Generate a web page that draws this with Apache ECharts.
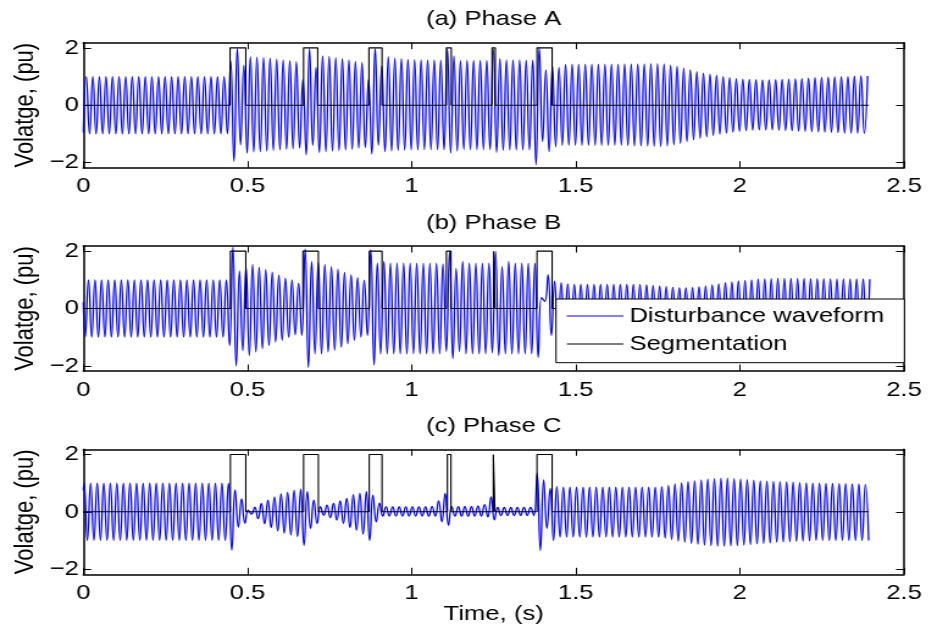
<!DOCTYPE html>
<html><head><meta charset="utf-8">
<script src="https://cdn.jsdelivr.net/npm/echarts@6/dist/echarts.min.js"></script>
<style>
html,body{margin:0;padding:0;background:#fff;overflow:hidden;}
#wrap{width:933px;height:632px;overflow:hidden;position:relative;}
#chart{height:632px;transform-origin:0 0;position:absolute;left:0;top:0;}
</style></head><body>
<div id="wrap"><div id="chart"></div></div>
<script>
// ---------------- DATA ----------------
const titles = ['(a) Phase A', '(b) Phase B', '(c) Phase C'];
const xTicks = [0, 0.5, 1, 1.5, 2, 2.5];
const yTicks = [-2, 0, 2];
const xLabel = 'Time, (s)';
const yLabel = 'Volatge, (pu)';
const seriesNames = ['Disturbance waveform', 'Segmentation'];

// 50 Hz waveform: one positive and one negative peak per cycle
const cycleTime = 0.02;
const posPeakTime = [0.009, 0.0157, 0.0023];   // time of first positive peak, phases A,B,C
const negPeakTime = [0.019, 0.0057, 0.0123];   // time of first negative peak
const startValues = [-0.95, 0.22, 0.75];       // value at t = 0
const waveEnd = 2.396;

const posA = [1,1,1,1,1,1,1,1,1,1,
  1,1,1,1,1,1,1,1,1,1,
  1,1,1.54,1.98,1.40,1.69,1.68,1.66,1.64,1.61,
  1.58,1.55,1.52,0.90,1.98,1.32,1.72,1.70,1.66,1.62,
  1.58,1.53,1.49,0.90,1.98,1.37,1.69,1.64,1.62,1.60,
  1.59,1.58,1.58,1.58,1.57,1.96,1.72,1.55,1.56,1.56,
  1.56,1.56,1.96,1.62,1.58,1.58,1.58,1.57,1.57,2.00,
  1.23,1.37,1.32,1.42,1.43,1.43,1.43,1.43,1.43,1.43,
  1.43,1.43,1.44,1.44,1.44,1.44,1.45,1.45,1.44,1.40,
  1.35,1.29,1.23,1.17,1.12,1.08,1.04,1.00,0.96,0.93,
  0.91,0.90,0.89,0.88,0.88,0.89,0.90,0.91,0.92,0.93,
  0.94,0.96,0.97,0.98,0.99,1.00,1.00,1.01,1.02,1.02];
const negA = [-1,-1,-1,-1,-1,-1,-1,-1,-1,-1,
  -1,-1,-1,-1,-1,-1,-1,-1,-1,-1,
  -1,-1,-1.96,-1.38,-1.67,-1.63,-1.62,-1.60,-1.58,-1.56,
  -1.54,-1.52,-1.50,-1.73,-1.40,-1.65,-1.62,-1.60,-1.58,-1.56,
  -1.54,-1.50,-1.48,-1.70,-1.40,-1.62,-1.60,-1.58,-1.57,-1.56,
  -1.56,-1.55,-1.55,-1.55,-1.55,-1.67,-1.60,-1.55,-1.55,-1.55,
  -1.55,-1.55,-1.65,-1.58,-1.56,-1.56,-1.56,-1.56,-2.08,-1.27,
  -1.62,-1.45,-1.40,-1.40,-1.40,-1.40,-1.40,-1.40,-1.40,-1.40,
  -1.40,-1.40,-1.41,-1.42,-1.42,-1.43,-1.43,-1.44,-1.42,-1.38,
  -1.33,-1.27,-1.21,-1.15,-1.10,-1.05,-1.01,-0.97,-0.94,-0.91,
  -0.89,-0.87,-0.86,-0.86,-0.86,-0.87,-0.88,-0.89,-0.90,-0.91,
  -0.92,-0.93,-0.94,-0.95,-0.96,-0.97,-0.97,-0.98,-0.98,-0.98];

const posB = [1,1,1,1,1,1,1,1,1,1,
  1,1,1,1,1,1,1,1,1,1,
  1,1,2.14,1.31,1.45,1.54,1.44,1.36,1.27,1.16,
  1.06,1.00,0.88,2.08,1.64,1.60,1.54,1.46,1.37,1.26,
  1.17,1.08,0.99,2.05,1.58,1.64,1.58,1.58,1.58,1.58,
  1.58,1.58,1.58,1.58,1.56,1.99,1.40,1.64,1.58,1.58,
  1.58,1.58,1.99,1.46,1.64,1.58,1.58,1.58,1.58,0.38,
  1.17,0.95,0.90,0.86,0.84,0.84,0.84,0.84,0.84,0.84,
  0.84,0.84,0.84,0.84,0.84,0.82,0.80,0.78,0.76,0.74,
  0.72,0.72,0.73,0.75,0.78,0.82,0.86,0.90,0.93,0.96,
  0.98,1.00,1.02,1.03,1.04,1.05,1.05,1.05,1.05,1.05,
  1.04,1.04,1.04,1.03,1.03,1.03,1.03,1.03,1.03,1.02];
const negB = [-1,-1,-1,-1,-1,-1,-1,-1,-1,-1,
  -1,-1,-1,-1,-1,-1,-1,-1,-1,-1,
  -1,-1,-1.30,-2.00,-1.47,-1.64,-1.52,-1.40,-1.29,-1.17,
  -1.11,-1.00,-0.92,-0.94,-2.06,-1.58,-1.58,-1.52,-1.46,-1.35,
  -1.23,-1.11,-1.00,-0.94,-1.97,-1.58,-1.58,-1.58,-1.58,-1.58,
  -1.58,-1.58,-1.58,-1.58,-1.58,-1.50,-1.75,-1.50,-1.58,-1.58,
  -1.58,-1.58,-1.55,-1.64,-1.58,-1.58,-1.58,-1.58,-1.58,-1.70,
  0.25,-0.94,-0.86,-0.84,-0.84,-0.84,-0.84,-0.84,-0.84,-0.84,
  -0.84,-0.84,-0.84,-0.84,-0.84,-0.83,-0.81,-0.79,-0.77,-0.75,
  -0.73,-0.72,-0.73,-0.74,-0.77,-0.80,-0.84,-0.88,-0.92,-0.95,
  -0.97,-0.99,-1.01,-1.02,-1.03,-1.04,-1.04,-1.04,-1.04,-1.04,
  -1.04,-1.04,-1.03,-1.03,-1.03,-1.03,-1.03,-1.03,-1.02,-1.02];

const posC = [1,1,1,1,1,1,1,1,1,1,
  1,1,1,1,1,1,1,1,1,1,
  1,1,1.00,0.76,0.45,0.06,0.16,0.29,0.41,0.52,
  0.62,0.68,0.75,0.79,0.70,0.41,0.18,0.23,0.29,0.38,
  0.47,0.60,0.64,0.70,0.58,0.30,0.17,0.17,0.17,0.17,
  0.17,0.17,0.17,0.18,0.38,0.64,0.18,0.18,0.18,0.18,
  0.20,0.25,0.52,0.15,0.15,0.15,0.15,0.15,0.15,1.35,
  1.11,0.82,0.88,0.86,0.86,0.86,0.86,0.86,0.86,0.86,
  0.86,0.86,0.86,0.86,0.86,0.86,0.86,0.86,0.88,0.92,
  0.97,1.01,1.05,1.08,1.11,1.14,1.16,1.17,1.17,1.16,
  1.14,1.12,1.10,1.08,1.07,1.06,1.05,1.04,1.03,1.02,
  1.01,1.00,1.00,0.99,0.99,0.98,0.98,0.97,0.97,0.96];
const negC = [-1,-1,-1,-1,-1,-1,-1,-1,-1,-1,
  -1,-1,-1,-1,-1,-1,-1,-1,-1,-1,
  -1,-1,-1.34,-0.53,-0.40,-0.08,-0.24,-0.42,-0.55,-0.66,
  -0.74,-0.80,-0.86,-1.17,-0.58,-0.41,-0.12,-0.20,-0.29,-0.41,
  -0.55,-0.64,-0.78,-1.00,-0.35,-0.15,-0.15,-0.15,-0.15,-0.15,
  -0.15,-0.15,-0.15,-0.15,-0.35,-0.47,-0.15,-0.15,-0.15,-0.15,
  -0.15,-0.18,-0.28,-0.13,-0.13,-0.13,-0.13,-0.13,-0.13,-1.35,
  -0.58,-1.00,-0.88,-0.88,-0.88,-0.88,-0.88,-0.88,-0.88,-0.88,
  -0.88,-0.88,-0.88,-0.88,-0.88,-0.88,-0.88,-0.88,-0.92,-0.97,
  -1.02,-1.06,-1.10,-1.13,-1.16,-1.18,-1.20,-1.20,-1.19,-1.18,
  -1.16,-1.14,-1.12,-1.10,-1.08,-1.06,-1.05,-1.04,-1.03,-1.02,
  -1.01,-1.00,-1.00,-1.00,-1.00,-1.00,-1.00,-1.00,-1.00,-1.00];

// segmentation pulses (start / end times, s)
const segStartA = [0.447, 0.671, 0.870, 1.106, 1.245, 1.382];
const segEndA   = [0.495, 0.714, 0.910, 1.121, 1.255, 1.428];
const segStartB = [0.448, 0.669, 0.871, 1.106, 1.250, 1.382];
const segEndB   = [0.495, 0.716, 0.910, 1.120, 1.254, 1.428];
const segStartC = [0.448, 0.671, 0.871, 1.109, 1.249, 1.382];
const segEndC   = [0.495, 0.716, 0.910, 1.120, 1.254, 1.428];
const segLow = 0, segHigh = 2, segEndTime = 2.393;

// ---------------- BUILD ----------------
const S = 1.22;                 // horizontal stretch of the reference figure
const chartW = 933 / S;
const el = document.getElementById('chart');
el.style.width = chartW + 'px';
el.style.transform = 'scaleX(' + S + ')';

const FF = "'Liberation Sans', Arial, Helvetica, sans-serif";
const plotL = 83.3 / S, plotW = (904 - 83.3) / S, plotH = 125;
const plotTops = [42.7, 246, 449.3];
const yMin = -2.18, yMax = 2.18;

function buildWave(pos, neg, pOff, nOff, start) {
  const pts = [[0, start]];
  for (let k = 0; k < pos.length; k++) {
    pts.push([pOff + k * cycleTime, pos[k]]);
    pts.push([nOff + k * cycleTime, neg[k]]);
  }
  pts.sort((a, b) => a[0] - b[0]);
  return pts.filter(p => p[0] <= waveEnd);
}
function buildSeg(starts, ends) {
  const pts = [[0, segLow]];
  for (let i = 0; i < starts.length; i++) {
    pts.push([starts[i], segLow], [starts[i], segHigh], [ends[i], segHigh], [ends[i], segLow]);
  }
  pts.push([segEndTime, segLow]);
  return pts;
}
const waves = [buildWave(posA, negA, posPeakTime[0], negPeakTime[0], startValues[0]),
               buildWave(posB, negB, posPeakTime[1], negPeakTime[1], startValues[1]),
               buildWave(posC, negC, posPeakTime[2], negPeakTime[2], startValues[2])];
const segs = [buildSeg(segStartA, segEndA), buildSeg(segStartB, segEndB), buildSeg(segStartC, segEndC)];

const axisLineStyle = {color: '#000', width: 1.5};
const tickStyle = {color: '#000', width: 1};
const minus = v => String(v).replace('-', '\u2212');

const grids = [], xAxes = [], yAxes = [], series = [], graphics = [];
for (let i = 0; i < 3; i++) {
  grids.push({left: plotL, top: plotTops[i], width: plotW, height: plotH});
  xAxes.push({type: 'value', gridIndex: i, position: 'bottom', min: xTicks[0], max: xTicks[xTicks.length - 1], interval: xTicks[1] - xTicks[0],
    axisLine: {show: true, onZero: false, lineStyle: axisLineStyle},
    axisTick: {show: true, inside: true, length: 6.5, lineStyle: tickStyle},
    axisLabel: {show: true, margin: 8.5, color: '#000', fontSize: 21, fontFamily: FF},
    splitLine: {show: false}});
  xAxes.push({type: 'value', gridIndex: i, position: 'top', min: xTicks[0], max: xTicks[xTicks.length - 1], interval: xTicks[1] - xTicks[0],
    axisLine: {show: true, onZero: false, lineStyle: axisLineStyle},
    axisTick: {show: true, inside: true, length: 6.5, lineStyle: tickStyle},
    axisLabel: {show: false}, splitLine: {show: false}});
  yAxes.push({type: 'value', gridIndex: i, position: 'left', min: yMin, max: yMax,
    axisLine: {show: true, onZero: false, lineStyle: axisLineStyle},
    axisTick: {show: true, inside: true, length: 6.5, lineStyle: tickStyle, customValues: yTicks},
    axisLabel: {show: true, margin: 3.5, color: '#000', fontSize: 21, fontFamily: FF, customValues: yTicks, formatter: minus},
    splitLine: {show: false}});
  yAxes.push({type: 'value', gridIndex: i, position: 'right', min: yMin, max: yMax,
    axisLine: {show: true, onZero: false, lineStyle: axisLineStyle},
    axisTick: {show: true, inside: true, length: 6.5, lineStyle: tickStyle, customValues: yTicks},
    axisLabel: {show: false}, splitLine: {show: false}});
  series.push({type: 'line', name: seriesNames[0], xAxisIndex: 2 * i, yAxisIndex: 2 * i, data: waves[i],
    symbol: 'none', showSymbol: false, smooth: true, clip: true, z: 2,
    lineStyle: {color: '#0000ff', width: 1.3}, itemStyle: {color: '#0000ff'}});
  series.push({type: 'line', name: seriesNames[1], xAxisIndex: 2 * i, yAxisIndex: 2 * i, data: segs[i],
    symbol: 'none', showSymbol: false, smooth: false, z: 3,
    lineStyle: {color: '#000', width: 1.1}, itemStyle: {color: '#000'}});
  graphics.push({type: 'text', x: plotL + plotW / 2, y: plotTops[i] - 23.2,
    style: {text: titles[i], fill: '#000', font: '21px ' + FF, align: 'center', verticalAlign: 'middle'}});
  graphics.push({type: 'text', x: 25 / S, y: plotTops[i] + plotH / 2, rotation: Math.PI / 2,
    style: {text: yLabel, fill: '#000', font: '22px ' + FF, align: 'center', verticalAlign: 'middle'}});
}
graphics.push({type: 'text', x: plotL + plotW / 2, y: 614.5,
  style: {text: xLabel, fill: '#000', font: '21px ' + FF, align: 'center', verticalAlign: 'middle'}});

const chart = echarts.init(el, null, {renderer: 'canvas'});
chart.setOption({
  animation: false,
  backgroundColor: '#fff',
  grid: grids, xAxis: xAxes, yAxis: yAxes, series: series,
  legend: {show: true, data: seriesNames, orient: 'vertical', left: 556 / S, top: 299,
    icon: 'rect', itemWidth: 46.4, itemHeight: 1.2, itemGap: 0, padding: [3, 16.5, 4.7, 8.8],
    backgroundColor: '#fff', borderColor: '#000', borderWidth: 1, borderRadius: 0,
    selectedMode: false, z: 10,
    textStyle: {color: '#000', fontSize: 21, fontFamily: FF, lineHeight: 28}},
  graphic: graphics
});
</script>
</body></html>
